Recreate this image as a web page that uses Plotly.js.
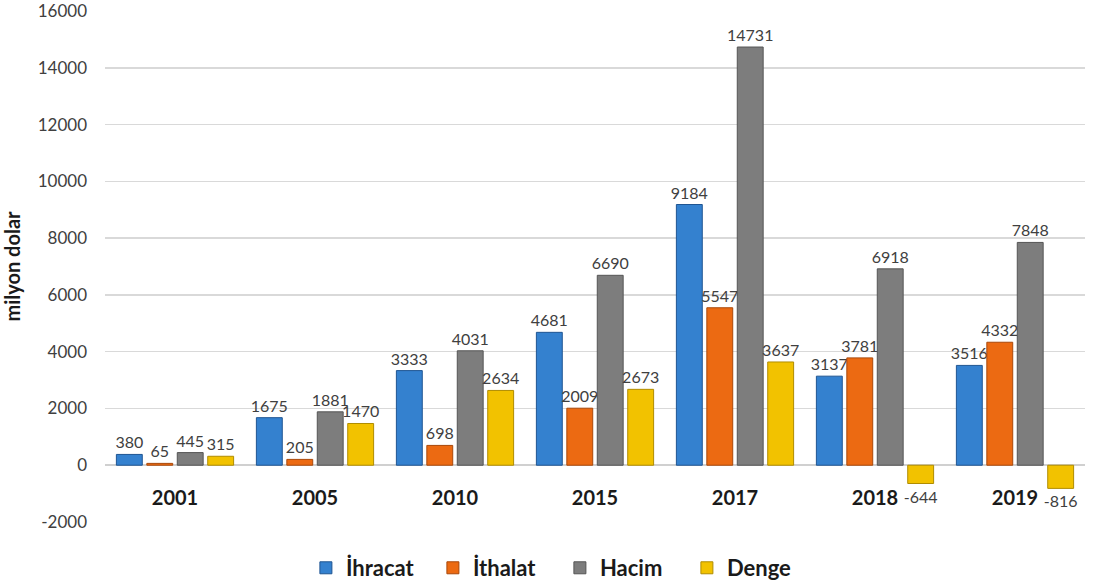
<!DOCTYPE html>
<html>
<head>
<meta charset="utf-8">
<script src="https://cdn.plot.ly/plotly-3.0.1.min.js"></script>
<style>html,body{margin:0;padding:0;background:#fff;}#chart{width:1105px;height:587px;}</style>
</head>
<body>
<div id="chart"></div>
<script>
var years = ["2001", "2005", "2010", "2015", "2017", "2018", "2019"];
var ihracat = [380, 1675, 3333, 4681, 9184, 3137, 3516];
var ithalat = [65, 205, 698, 2009, 5547, 3781, 4332];
var hacim = [445, 1881, 4031, 6690, 14731, 6918, 7848];
var denge = [315, 1470, 2634, 2673, 3637, -644, -816];
var seriesNames = ["İhracat", "İthalat", "Hacim", "Denge"];
var yTicks = [-2000, 0, 2000, 4000, 6000, 8000, 10000, 12000, 14000, 16000];

var FONT = "Lato, 'Open Sans', sans-serif";
var colors = ["#3481cf", "#ec6a12", "#7d7d7d", "#f2c200"];
var edges = ["#1f5592", "#a9480a", "#555555", "#b08c00"];
var allSeries = [ihracat, ithalat, hacim, denge];

var traces = allSeries.map(function (vals, i) {
  return {
    type: "bar",
    name: seriesNames[i],
    x: years,
    y: vals,
    text: vals.map(String),
    textposition: "outside",
    constraintext: "none",
    cliponaxis: false,
    textfont: {family: FONT, size: 16, color: "#404040"},
    marker: {color: colors[i], line: {color: edges[i], width: 1}}
  };
});

var layout = {
  width: 1105,
  height: 587,
  margin: {l: 105, r: 20, t: 11, b: 65, autoexpand: false},
  paper_bgcolor: "#ffffff",
  plot_bgcolor: "#ffffff",
  font: {family: FONT, color: "#404040"},
  barmode: "group",
  bargap: 0.13,
  bargroupgap: 0.15,
  showlegend: true,
  legend: {
    orientation: "h",
    x: 0.205, xanchor: "left",
    y: -0.09, yanchor: "middle",
    font: {size: 22, color: "#1a1a1a", family: FONT, weight: "bold"},
    itemwidth: 30,
    entrywidth: 82,
    entrywidthmode: "pixels",
    traceorder: "normal"
  },
  xaxis: {
    type: "category",
    anchor: "free",
    position: 2000 / 18000,
    showline: false,
    showgrid: false,
    ticks: "",
    tickfont: {size: 20, color: "#1a1a1a", family: FONT, weight: "bold"},
    ticklabelstandoff: 19
  },
  yaxis: {
    range: [-2000, 16000],
    tickvals: yTicks,
    ticktext: yTicks.map(String),
    ticklabeloverflow: "allow",
    showgrid: true,
    gridcolor: "#d9d9d9",
    gridwidth: 1.5,
    zeroline: true,
    zerolinecolor: "#d0d0d0",
    zerolinewidth: 1.5,
    showline: false,
    ticks: "",
    ticklabelstandoff: 17,
    tickfont: {size: 17, color: "#404040"},
    title: {text: "milyon dolar", font: {size: 20, color: "#1a1a1a", weight: "bold"}, standoff: 12}
  }
};

Plotly.newPlot("chart", traces, layout, {displayModeBar: false, staticPlot: true});
</script>
</body>
</html>
